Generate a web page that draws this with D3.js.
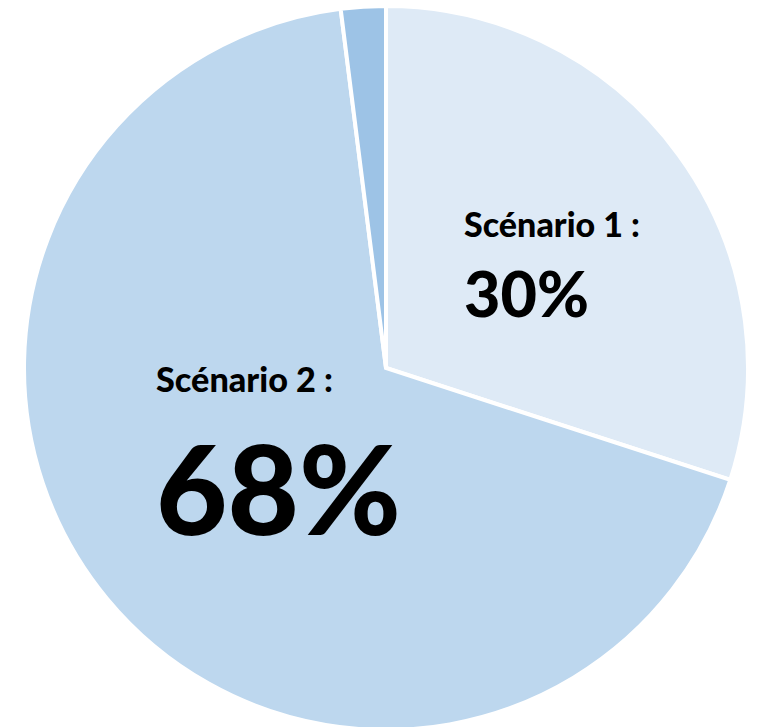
<!DOCTYPE html>
<html>
<head>
<meta charset="utf-8">
<script src="https://cdn.jsdelivr.net/npm/d3@7"></script>
<style>
  body { margin: 0; background: #fff; }
  text { font-family: "Lato", "Open Sans", sans-serif; font-weight: 900; fill: #000; }
</style>
</head>
<body>
<div id="chart"></div>
<script>
// Slice data (share of total, in %)
var scenarios = ["Scénario 1", "Scénario 2", "Autre"];
var shares = [30, 68, 2];
var sliceColors = ["#DEEAF6", "#BDD7EE", "#9DC3E6"];

var svgWidth = 757;
var svgHeight = 727;

var cx = 386, cy = 368, radius = 362;

var svg = d3.select("#chart")
    .append("svg")
    .attr("width", svgWidth)
    .attr("height", svgHeight);

var pieGroup = svg.append("g")
    .attr("transform", `translate(${cx}, ${cy})`);

var data = scenarios.map(function(name, i) {
    return { name: name, value: shares[i], color: sliceColors[i] };
});

// Start at 12 o'clock, go clockwise, keep data order
var pie = d3.pie()
    .sort(null)
    .value(d => d.value);

var arc = d3.arc()
    .innerRadius(0)
    .outerRadius(radius);

pieGroup.selectAll("path")
    .data(pie(data))
    .enter()
    .append("path")
    .attr("d", arc)
    .attr("fill", d => d.data.color)
    .attr("stroke", "#fff")
    .attr("stroke-width", 4)
    .attr("stroke-linejoin", "miter");

// Labels: name line + big percentage, each sized to fit a target width
function fitText(sel, targetWidth) {
    sel.attr("font-size", 100);
    var w = sel.node().getComputedTextLength();
    sel.attr("font-size", 100 * targetWidth / w);
}

var labels = [
    { title: scenarios[0] + " :", pct: shares[0] + "%", x: 464, y1: 237, w1: 176, y2: 317, w2: 125 },
    { title: scenarios[1] + " :", pct: shares[1] + "%", x: 156, y1: 392, w1: 177, y2: 535, w2: 245 }
];

labels.forEach(function(l) {
    svg.append("text")
        .attr("x", l.x)
        .attr("y", l.y1)
        .text(l.title)
        .call(fitText, l.w1);
    svg.append("text")
        .attr("x", l.x)
        .attr("y", l.y2)
        .text(l.pct)
        .call(fitText, l.w2);
});
</script>
</body>
</html>
